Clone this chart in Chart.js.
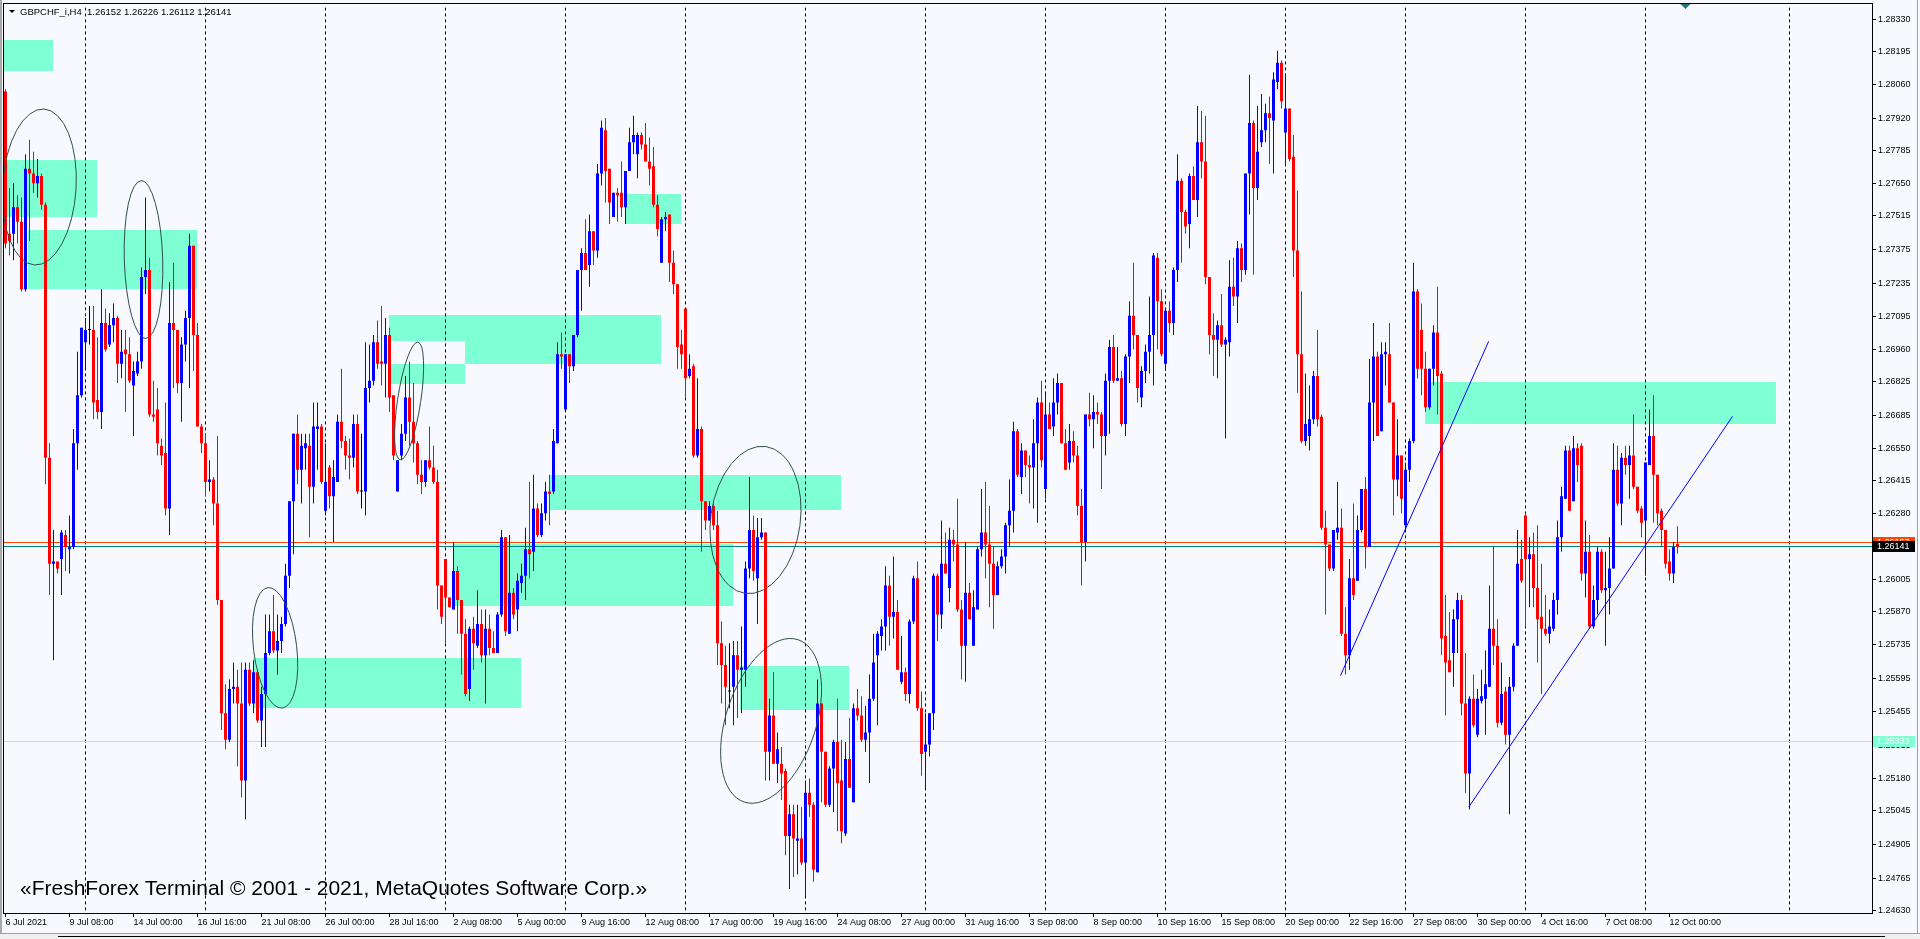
<!DOCTYPE html>
<html><head><meta charset="utf-8">
<script src="https://cdn.jsdelivr.net/npm/chart.js@4.4.1/dist/chart.umd.min.js"></script>
<style>html,body{margin:0;padding:0;background:#F8F8FF;overflow:hidden}canvas{display:block}</style>
</head><body>
<div style="width:1920px;height:939px;position:relative"><canvas id="c" width="1920" height="939"></canvas></div>
<script>
// ---- GBPCHF_i H4 candles (bar 0 = 6 Jul 2021 16:00) ----
const opens = [
1.2803,1.2744,1.2744,1.2755,1.2749,1.2721,1.2771,1.2769,1.2765,1.2768,
1.2756,1.2651,1.2607,1.2608,1.2609,1.2619,1.2613,1.2614,1.2657,1.2677,
1.2699,1.2704,1.2704,1.2675,1.2670,1.2707,1.2698,1.2706,1.2709,1.2690,
1.2696,1.2694,1.2681,1.2686,1.2691,1.2726,1.2729,1.2669,1.2671,1.2656,
1.2653,1.2630,1.2707,1.2704,1.2682,1.2698,1.2709,1.2739,1.2702,1.2664,
1.2657,1.2641,1.2642,1.2632,1.2592,1.2545,1.2534,1.2555,1.2556,1.2549,
1.2517,1.2563,1.2549,1.2562,1.2542,1.2553,1.2570,1.2579,1.2571,1.2575,
1.2582,1.2602,1.2633,1.2661,1.2646,1.2655,1.2656,1.2639,1.2663,1.2664,
1.2629,1.2647,1.2635,1.2641,1.2666,1.2658,1.2652,1.2651,1.2665,1.2637,
1.2637,1.2680,1.2683,1.2699,1.2691,1.2690,1.2702,1.2677,1.2637,1.2652,
1.2661,1.2676,1.2666,1.2657,1.2644,1.2641,1.2650,1.2647,1.2641,1.2598,
1.2609,1.2593,1.2588,1.2604,1.2592,1.2578,1.2555,1.2580,1.2573,1.2582,
1.2569,1.2580,1.2572,1.2570,1.2586,1.2618,1.2578,1.2595,1.2588,1.2599,
1.2602,1.2613,1.2612,1.2630,1.2619,1.2628,1.2637,1.2637,1.2657,1.2694,
1.2671,1.2694,1.2689,1.2702,1.2729,1.2736,1.2731,1.2745,1.2737,1.2769,
1.2787,1.2771,1.2751,1.2761,1.2761,1.2755,1.2770,1.2782,1.2777,1.2785,
1.2781,1.2774,1.2772,1.2756,1.2732,1.2750,1.2752,1.2732,1.2723,1.2698,
1.2713,1.2685,1.2689,1.2652,1.2663,1.2633,1.2625,1.2631,1.2623,1.2574,
1.2565,1.2554,1.2556,1.2569,1.2563,1.2563,1.2605,1.2621,1.2601,1.2618,
1.2620,1.2529,1.2544,1.2524,1.2524,1.2521,1.2494,1.2503,1.2492,1.2493,
1.2483,1.2512,1.2507,1.2479,1.2549,1.2529,1.2507,1.2522,1.2533,1.2517,
1.2495,1.2526,1.2508,1.2547,1.2544,1.2534,1.2537,1.2551,1.2569,1.2577,
1.2581,1.2598,1.2585,1.2587,1.2558,1.2562,1.2553,1.2583,1.2601,1.2547,
1.2529,1.2532,1.2545,1.2602,1.2586,1.2607,1.2597,1.2617,1.2615,1.2588,
1.2573,1.2595,1.2573,1.2588,1.2613,1.2620,1.2615,1.2607,1.2594,1.2606,
1.2610,1.2623,1.2629,1.2662,1.2643,1.2654,1.2648,1.2647,1.2657,1.2674,
1.2638,1.2669,1.2664,1.2674,1.2682,1.2657,1.2649,1.2658,1.2652,1.2631,
1.2616,1.2669,1.2667,1.2670,1.2669,1.2660,1.2683,1.2697,1.2683,1.2684,
1.2665,1.2693,1.2710,1.2702,1.2676,1.2687,1.2695,1.2702,1.2734,1.2716,
1.2690,1.2712,1.2707,1.2729,1.2766,1.2753,1.2748,1.2768,1.2758,1.2782,
1.2774,1.2726,1.2702,1.2700,1.2706,1.2698,1.2699,1.2722,1.2718,1.2738,
1.2729,1.2769,1.2790,1.2763,1.2782,1.2787,1.2794,1.2791,1.2807,1.2815,
1.2786,1.2796,1.2776,1.2737,1.2694,1.2658,1.2660,1.2667,1.2685,1.2668,
1.2622,1.2615,1.2605,1.2620,1.2622,1.2578,1.2569,1.2601,1.2600,1.2621,
1.2638,1.2614,1.2674,1.2693,1.2662,1.2694,1.2694,1.2674,1.2642,1.2652,
1.2623,1.2646,1.2658,1.2720,1.2704,1.2688,1.2672,1.2688,1.2703,1.2686,
1.2577,1.2567,1.2570,1.2584,1.2592,1.2549,1.2520,1.2551,1.2536,1.2550,
1.2551,1.2556,1.2580,1.2573,1.2541,1.2554,1.2536,1.2556,1.2573,1.2609,
1.2627,1.2609,1.2611,1.2597,1.2585,1.2580,1.2578,1.2580,1.2592,1.2618,
1.2634,1.2654,1.2633,1.2655,1.2656,1.2603,1.2612,1.2581,1.2592,1.2612,
1.2596,1.2597,1.2605,1.2646,1.2632,1.2651,1.2648,1.2652,1.2639,1.2630,
1.2625,1.2648,1.2660,1.2644,1.2629,1.2621,1.2608,1.2603,1.26152];
const highs = [
1.2804,1.2763,1.2765,1.2760,1.2759,1.2777,1.2783,1.2778,1.2775,1.2769,
1.2757,1.2657,1.2621,1.2608,1.2621,1.2621,1.2627,1.2663,1.2695,1.2705,
1.2709,1.2714,1.2714,1.2701,1.2721,1.2713,1.2711,1.2715,1.2710,1.2704,
1.2704,1.2701,1.2691,1.2695,1.2730,1.2759,1.2734,1.2683,1.2680,1.2659,
1.2674,1.2724,1.2732,1.2704,1.2701,1.2712,1.2744,1.2739,1.2707,1.2665,
1.2661,1.2650,1.2643,1.2660,1.2592,1.2557,1.2559,1.2566,1.2563,1.2566,
1.2566,1.2566,1.2567,1.2563,1.2556,1.2586,1.2586,1.2594,1.2586,1.2585,
1.2607,1.2633,1.2661,1.2669,1.2661,1.2661,1.2661,1.2674,1.2674,1.2665,
1.2657,1.2648,1.2650,1.2669,1.2688,1.2660,1.2659,1.2669,1.2669,1.2661,
1.2699,1.2698,1.2702,1.2708,1.2714,1.2709,1.2705,1.2677,1.2650,1.2665,
1.2685,1.2691,1.2682,1.2658,1.2650,1.2650,1.2664,1.2656,1.2646,1.2598,
1.2609,1.2593,1.2616,1.2606,1.2592,1.2584,1.2581,1.2585,1.2596,1.2588,
1.2588,1.2586,1.2579,1.2587,1.2621,1.2618,1.2619,1.2597,1.2603,1.2607,
1.2622,1.2641,1.2644,1.2632,1.2632,1.2641,1.2644,1.2663,1.2699,1.2703,
1.2694,1.2694,1.2702,1.2729,1.2738,1.2750,1.2752,1.2745,1.2773,1.2791,
1.2792,1.2771,1.2761,1.2763,1.2774,1.2770,1.2788,1.2793,1.2786,1.2786,
1.2790,1.2784,1.2780,1.2760,1.2751,1.2753,1.2752,1.2737,1.2723,1.2704,
1.2713,1.2694,1.2690,1.2684,1.2664,1.2633,1.2633,1.2632,1.2629,1.2583,
1.2573,1.2574,1.2575,1.2575,1.2581,1.2608,1.2643,1.2627,1.2626,1.2626,
1.2620,1.2551,1.2562,1.2537,1.2531,1.2522,1.2507,1.2507,1.2507,1.2506,
1.2517,1.2518,1.2508,1.2559,1.2549,1.2529,1.2523,1.2534,1.2551,1.2534,
1.2533,1.2543,1.2549,1.2555,1.2552,1.2548,1.2561,1.2578,1.2579,1.2584,
1.2606,1.2602,1.2610,1.2592,1.2577,1.2564,1.2584,1.2602,1.2608,1.2554,
1.2545,1.2545,1.2603,1.2603,1.2625,1.2620,1.2622,1.2621,1.2634,1.2592,
1.2616,1.2599,1.2596,1.2614,1.2638,1.2641,1.2631,1.2614,1.2608,1.2613,
1.2624,1.2642,1.2666,1.2663,1.2657,1.2654,1.2652,1.2667,1.2676,1.2683,
1.2678,1.2674,1.2684,1.2686,1.2682,1.2663,1.2665,1.2662,1.2656,1.2638,
1.2669,1.2678,1.2677,1.2674,1.2670,1.2686,1.2700,1.2702,1.2697,1.2687,
1.2694,1.2716,1.2732,1.2702,1.2689,1.2698,1.2718,1.2736,1.2736,1.2721,
1.2713,1.2716,1.2730,1.2777,1.2767,1.2754,1.2769,1.2772,1.2797,1.2795,
1.2793,1.2726,1.2711,1.2708,1.2719,1.2701,1.2733,1.2734,1.2741,1.2740,
1.2769,1.2810,1.2791,1.2797,1.2802,1.2798,1.2801,1.2811,1.2820,1.2816,
1.2810,1.2796,1.2785,1.2762,1.2720,1.2686,1.2681,1.2687,1.2704,1.2669,
1.2629,1.2615,1.2621,1.2641,1.2630,1.2589,1.2609,1.2632,1.2627,1.2638,
1.2643,1.2692,1.2707,1.2695,1.2699,1.2699,1.2707,1.2674,1.2667,1.2652,
1.2649,1.2659,1.2732,1.2721,1.2715,1.2695,1.2688,1.2706,1.2722,1.2687,
1.2594,1.2587,1.2588,1.2595,1.2594,1.2570,1.2552,1.2561,1.2555,1.2563,
1.2571,1.2598,1.2614,1.2584,1.2566,1.2556,1.2560,1.2574,1.2621,1.2617,
1.2628,1.2618,1.2620,1.2623,1.2607,1.2594,1.2588,1.2595,1.2625,1.2639,
1.2656,1.2656,1.2660,1.2657,1.2657,1.2625,1.2619,1.2598,1.2614,1.2613,
1.2612,1.2618,1.2657,1.2656,1.2653,1.2656,1.2656,1.2669,1.2639,1.2631,
1.2649,1.2671,1.2677,1.2644,1.2630,1.2621,1.2613,1.2616,1.26226];
const lows = [
1.2738,1.2735,1.2733,1.2740,1.2720,1.2720,1.2741,1.2761,1.2759,1.2754,
1.2640,1.2594,1.2567,1.2603,1.2594,1.2604,1.2603,1.2613,1.2646,1.2676,
1.2688,1.2698,1.2667,1.2667,1.2663,1.2695,1.2697,1.2699,1.2682,1.2684,
1.2670,1.2682,1.2660,1.2685,1.2688,1.2719,1.2668,1.2666,1.2652,1.2648,
1.2627,1.2619,1.2680,1.2678,1.2666,1.2691,1.2680,1.2687,1.2664,1.2653,
1.2635,1.2637,1.2623,1.2590,1.2538,1.2530,1.2533,1.2549,1.2523,1.2510,
1.2501,1.2548,1.2545,1.2541,1.2531,1.2531,1.2569,1.2570,1.2561,1.2570,
1.2581,1.2597,1.2611,1.2640,1.2632,1.2646,1.2618,1.2632,1.2646,1.2640,
1.2627,1.2630,1.2616,1.2641,1.2655,1.2646,1.2642,1.2647,1.2636,1.2630,
1.2627,1.2674,1.2681,1.2688,1.2681,1.2676,1.2670,1.2650,1.2637,1.2650,
1.2658,1.2656,1.2649,1.2640,1.2636,1.2639,1.2646,1.2640,1.2588,1.2582,
1.2574,1.2589,1.2588,1.2578,1.2561,1.2552,1.2550,1.2563,1.2572,1.2566,
1.2549,1.2569,1.2570,1.2570,1.2585,1.2577,1.2578,1.2584,1.2579,1.2595,
1.2592,1.2601,1.2604,1.2618,1.2618,1.2625,1.2623,1.2636,1.2657,1.2688,
1.2671,1.2682,1.2687,1.2701,1.2712,1.2729,1.2722,1.2731,1.2734,1.2764,
1.2757,1.2748,1.2751,1.2749,1.2751,1.2748,1.2770,1.2777,1.2767,1.2779,
1.2774,1.2764,1.2755,1.2743,1.2732,1.2745,1.2724,1.2719,1.2688,1.2688,
1.2676,1.2684,1.2651,1.2651,1.2612,1.2621,1.2625,1.2621,1.2565,1.2549,
1.2540,1.2547,1.2540,1.2543,1.2545,1.2556,1.2601,1.2600,1.2582,1.2617,
1.2517,1.2517,1.2524,1.2516,1.2509,1.2486,1.2472,1.2477,1.2478,1.2482,
1.2469,1.2502,1.2475,1.2479,1.2508,1.2506,1.2506,1.2504,1.2496,1.2491,
1.2494,1.2514,1.2508,1.2542,1.2533,1.2529,1.2516,1.2550,1.2540,1.2571,
1.2571,1.2573,1.2576,1.2563,1.2557,1.2550,1.2549,1.2582,1.2546,1.2519,
1.2514,1.2527,1.2538,1.2575,1.2580,1.2603,1.2591,1.2608,1.2587,1.2559,
1.2558,1.2584,1.2573,1.2588,1.2610,1.2601,1.2589,1.2580,1.2594,1.2605,
1.2603,1.2614,1.2620,1.2643,1.2636,1.2643,1.2632,1.2630,1.2624,1.2647,
1.2634,1.2663,1.2660,1.2669,1.2657,1.2646,1.2646,1.2649,1.2627,1.2598,
1.2608,1.2664,1.2655,1.2665,1.2638,1.2652,1.2661,1.2682,1.2683,1.2664,
1.2660,1.2682,1.2696,1.2674,1.2672,1.2682,1.2686,1.2681,1.2696,1.2693,
1.2687,1.2703,1.2702,1.2724,1.2732,1.2744,1.2738,1.2758,1.2751,1.2767,
1.2723,1.2694,1.2685,1.2684,1.2697,1.2659,1.2693,1.2714,1.2707,1.2724,
1.2727,1.2752,1.2727,1.2758,1.2780,1.2782,1.2773,1.2769,1.2804,1.2796,
1.2772,1.2774,1.2726,1.2678,1.2657,1.2656,1.2654,1.2665,1.2664,1.2621,
1.2586,1.2604,1.2604,1.2617,1.2577,1.2561,1.2563,1.2592,1.2600,1.2620,
1.2605,1.2614,1.2658,1.2660,1.2662,1.2681,1.2674,1.2627,1.2635,1.2628,
1.2621,1.2641,1.2657,1.2684,1.2677,1.2670,1.2671,1.2681,1.2669,1.2569,
1.2544,1.2562,1.2556,1.2570,1.2544,1.2512,1.2505,1.2539,1.2535,1.2549,
1.2536,1.2556,1.2565,1.2539,1.2540,1.2532,1.2503,1.2554,1.2573,1.2599,
1.2581,1.2589,1.2589,1.2566,1.2553,1.2577,1.2574,1.2579,1.2586,1.2612,
1.2634,1.2629,1.2633,1.2641,1.2600,1.2593,1.2580,1.2580,1.2586,1.2595,
1.2573,1.2586,1.2605,1.2631,1.2623,1.2644,1.2634,1.2638,1.2628,1.2618,
1.2602,1.2648,1.2624,1.2623,1.2614,1.2605,1.2600,1.2599,1.26112];
const closes = [
1.2740,1.2741,1.2755,1.2749,1.2721,1.2771,1.2769,1.2765,1.2768,1.2756,
1.2651,1.2607,1.2608,1.2605,1.2620,1.2614,1.2614,1.2657,1.2677,1.2705,
1.2704,1.2704,1.2674,1.2670,1.2707,1.2696,1.2706,1.2709,1.2690,1.2695,
1.2694,1.2683,1.2687,1.2691,1.2726,1.2729,1.2669,1.2668,1.2657,1.2652,
1.2630,1.2707,1.2704,1.2682,1.2698,1.2709,1.2739,1.2702,1.2664,1.2657,
1.2641,1.2642,1.2632,1.2592,1.2545,1.2534,1.2555,1.2556,1.2549,1.2517,
1.2563,1.2549,1.2562,1.2542,1.2553,1.2570,1.2579,1.2571,1.2575,1.2582,
1.2602,1.2633,1.2661,1.2646,1.2656,1.2657,1.2639,1.2664,1.2664,1.2641,
1.2641,1.2635,1.2643,1.2666,1.2658,1.2652,1.2651,1.2665,1.2637,1.2637,
1.2680,1.2683,1.2699,1.2690,1.2690,1.2702,1.2676,1.2652,1.2650,1.2661,
1.2676,1.2666,1.2657,1.2644,1.2641,1.2650,1.2647,1.2641,1.2598,1.2585,
1.2593,1.2589,1.2604,1.2592,1.2578,1.2553,1.2580,1.2574,1.2582,1.2569,
1.2580,1.2572,1.2570,1.2586,1.2618,1.2579,1.2595,1.2586,1.2600,1.2602,
1.2613,1.2611,1.2630,1.2619,1.2628,1.2637,1.2636,1.2658,1.2694,1.2693,
1.2694,1.2689,1.2702,1.2729,1.2736,1.2729,1.2745,1.2737,1.2769,1.2788,
1.2770,1.2757,1.2761,1.2760,1.2755,1.2770,1.2782,1.2785,1.2785,1.2781,
1.2774,1.2771,1.2756,1.2746,1.2750,1.2751,1.2732,1.2723,1.2697,1.2694,
1.2684,1.2688,1.2652,1.2663,1.2633,1.2625,1.2631,1.2623,1.2574,1.2565,
1.2556,1.2554,1.2569,1.2563,1.2564,1.2605,1.2621,1.2604,1.2618,1.2620,
1.2529,1.2544,1.2524,1.2530,1.2520,1.2494,1.2503,1.2493,1.2493,1.2483,
1.2512,1.2507,1.2480,1.2549,1.2529,1.2507,1.2522,1.2533,1.2516,1.2496,
1.2526,1.2514,1.2547,1.2544,1.2534,1.2537,1.2551,1.2566,1.2578,1.2581,
1.2598,1.2585,1.2587,1.2563,1.2562,1.2553,1.2583,1.2601,1.2547,1.2528,
1.2532,1.2545,1.2602,1.2586,1.2607,1.2603,1.2617,1.2615,1.2588,1.2573,
1.2595,1.2584,1.2589,1.2613,1.2620,1.2615,1.2607,1.2594,1.2606,1.2610,
1.2623,1.2629,1.2662,1.2644,1.2654,1.2648,1.2647,1.2657,1.2674,1.2650,
1.2669,1.2663,1.2674,1.2682,1.2657,1.2646,1.2658,1.2652,1.2631,1.2616,
1.2669,1.2667,1.2670,1.2669,1.2660,1.2683,1.2697,1.2683,1.2684,1.2665,
1.2693,1.2710,1.2702,1.2680,1.2687,1.2695,1.2702,1.2735,1.2716,1.2694,
1.2712,1.2707,1.2729,1.2766,1.2753,1.2747,1.2768,1.2758,1.2782,1.2774,
1.2726,1.2702,1.2700,1.2706,1.2698,1.2700,1.2722,1.2718,1.2738,1.2729,
1.2769,1.2790,1.2763,1.2778,1.2787,1.2794,1.2792,1.2808,1.2815,1.2799,
1.2796,1.2775,1.2737,1.2694,1.2658,1.2665,1.2667,1.2685,1.2667,1.2622,
1.2615,1.2605,1.2621,1.2622,1.2578,1.2569,1.2601,1.2594,1.2621,1.2638,
1.2614,1.2674,1.2693,1.2660,1.2694,1.2695,1.2674,1.2642,1.2652,1.2634,
1.2646,1.2658,1.2720,1.2688,1.2688,1.2672,1.2688,1.2703,1.2685,1.2576,
1.2566,1.2562,1.2584,1.2592,1.2549,1.2520,1.2551,1.2540,1.2551,1.2552,
1.2557,1.2580,1.2573,1.2541,1.2553,1.2536,1.2556,1.2573,1.2607,1.2600,
1.2609,1.2611,1.2597,1.2584,1.2580,1.2578,1.2581,1.2592,1.2618,1.2635,
1.2654,1.2629,1.2655,1.2648,1.2603,1.2612,1.2581,1.2592,1.2612,1.2596,
1.2597,1.2605,1.2646,1.2632,1.2651,1.2648,1.2652,1.2639,1.2629,1.2624,
1.2649,1.2660,1.2644,1.2628,1.2621,1.2607,1.2603,1.2614,1.26141];

// ---- axis tick labels ----
const timeLabels = ['6 Jul 2021','9 Jul 08:00','14 Jul 00:00','16 Jul 16:00','21 Jul 08:00','26 Jul 00:00','28 Jul 16:00',
  '2 Aug 08:00','5 Aug 00:00','9 Aug 16:00','12 Aug 08:00','17 Aug 00:00','19 Aug 16:00','24 Aug 08:00','27 Aug 00:00',
  '31 Aug 16:00','3 Sep 08:00','8 Sep 00:00','10 Sep 16:00','15 Sep 08:00','20 Sep 00:00','22 Sep 16:00','27 Sep 08:00',
  '30 Sep 00:00','4 Oct 16:00','7 Oct 08:00','12 Oct 00:00'];
const timeLabelBars = [0,16,32,48,64,80,96,112,128,144,160,176,192,208,224,240,256,272,288,304,320,336,352,368,384,400,416];
const priceLabels = ['1.28330','1.28195','1.28060','1.27920','1.27785','1.27650','1.27515','1.27375','1.27235','1.27095',
  '1.26960','1.26825','1.26685','1.26550','1.26415','1.26280','1.26145','1.26005','1.25870','1.25735','1.25595',
  '1.25455','1.25315','1.25180','1.25045','1.24905','1.24765','1.24630'];

// ---- objects on the chart ----
const separatorBars = [20,50,80,110,140,170,200,230,260,290,320,350,380,410,446];
// [fromBar, toBar, topPrice, bottomPrice]
const zones = [
  [-0.5, 11.75, 1.28245, 1.28114],
  [-0.5, 22.75, 1.27745, 1.27511],
  [5.5, 47.75, 1.27454, 1.27212],
  [61.75, 128.75, 1.25678, 1.25471],
  [95.75, 163.75, 1.27104, 1.26994],
  [114.75, 163.75, 1.26994, 1.26898],
  [95.75, 114.75, 1.26898, 1.26815],
  [136, 208.75, 1.26437, 1.26294],
  [111.75, 181.75, 1.26153, 1.25893],
  [154.75, 168.75, 1.27607, 1.27481],
  [183.5, 210.75, 1.25645, 1.25463],
  [354.75, 442.5, 1.26826, 1.26650]
];
// [centerBar, centerPrice, radiusBars, radiusPrice, rotation]
const ellipses = [
  [8.45, 1.27634, 9.2, 0.003243, 0.06],
  [34.5, 1.27333, 4.8, 0.003276, -0.03],
  [67.4, 1.25721, 5.4, 0.00252, -0.12],
  [100.9, 1.26746, 2.9, 0.00247, 0.15],
  [187.5, 1.26252, 11.2, 0.003078, 0.14],
  [191.4, 1.25418, 11.25, 0.00355, 0.32]
];
const trend1 = [{x:333.75, y:1.25606}, {x:370.8, y:1.26994}];
const trend2 = [{x:365.8, y:1.25060}, {x:431.75, y:1.26682}];
const bidPrice = 1.26141, askPrice = 1.26157, levelPrice = 1.25333;
const titleText = 'GBPCHF_i,H4';
const titlePrices = '1.26152 1.26226 1.26112 1.26141';
const watermark = '\u00ABFreshForex Terminal \u00A9 2001 - 2021, MetaQuotes Software Corp.\u00BB';

const X_MIN = -0.375, X_MAX = 466.625, Y_MIN = 1.246205, Y_MAX = 1.283796;
const FONT = '"Liberation Sans", Arial, sans-serif';

const idx = opens.map((_, i) => i);
const candleColors = idx.map(i => closes[i] > opens[i] ? '#0000FF' : (closes[i] < opens[i] ? '#FF0000' : '#000000'));
const wickData = idx.map(i => ({x: i, y: [lows[i], highs[i]]}));
const bodyData = idx.map(i => ({x: i, y: [Math.min(opens[i], closes[i]), Math.max(opens[i], closes[i])]}));

function priceBox(ctx, yPx, bg, txt) {
  ctx.fillStyle = bg;
  ctx.fillRect(1873, Math.round(yPx - 5.5), 42, 11);
  ctx.fillStyle = '#FFFFFF';
  ctx.font = '9px ' + FONT;
  ctx.textAlign = 'left'; ctx.textBaseline = 'middle';
  ctx.fillText(txt, 1877, Math.round(yPx - 5.5) + 6);
}

const overlay = {
  id: 'overlay',
  beforeDraw(chart) {
    const ctx = chart.ctx;
    ctx.save();
    ctx.fillStyle = '#F8F8FF';
    ctx.fillRect(0, 0, chart.width, chart.height);
    ctx.fillStyle = '#A9A9A9';
    ctx.fillRect(0, 0, 2, 934);
    ctx.fillStyle = '#A0A0A0';
    ctx.fillRect(0, 933, 1920, 1);
    ctx.fillStyle = '#F0F0F0';
    ctx.fillRect(0, 934, 1920, 5);
    ctx.fillStyle = '#000';
    ctx.fillRect(58, 936, 1827, 1);
    ctx.fillStyle = '#A0A0A0';
    ctx.fillRect(1917, 0, 1, 934);
    ctx.restore();
  },
  beforeDatasetsDraw(chart) {
    const {ctx, chartArea: a, scales: {x, y}} = chart;
    ctx.save();
    ctx.beginPath(); ctx.rect(a.left, a.top, a.right - a.left, a.bottom - a.top); ctx.clip();
    ctx.fillStyle = '#7FFFD4';
    zones.forEach(([b0, b1, pt, pb]) => {
      const x0 = Math.round(x.getPixelForValue(b0)), x1 = Math.round(x.getPixelForValue(b1));
      const y0 = Math.round(y.getPixelForValue(pt)), y1 = Math.round(y.getPixelForValue(pb));
      ctx.fillRect(x0, y0, x1 - x0, y1 - y0);
    });
    ctx.strokeStyle = '#000'; ctx.lineWidth = 1; ctx.setLineDash([3, 3]);
    separatorBars.forEach(b => {
      const px = Math.floor(x.getPixelForValue(b)) + 0.5;
      ctx.beginPath(); ctx.moveTo(px, a.top); ctx.lineTo(px, a.bottom); ctx.stroke();
    });
    ctx.setLineDash([]);
    [[levelPrice, '#7FFFD4'], [askPrice, '#FF4500'], [bidPrice, '#008080']].forEach(([p, col]) => {
      const py = Math.floor(y.getPixelForValue(p)) + 0.5;
      ctx.strokeStyle = col;
      ctx.beginPath(); ctx.moveTo(a.left, py); ctx.lineTo(a.right, py); ctx.stroke();
    });
    ctx.restore();
  },
  afterDatasetsDraw(chart) {
    const {ctx, chartArea: a, scales: {x, y}} = chart;
    ctx.save();
    ctx.beginPath(); ctx.rect(a.left, a.top, a.right - a.left, a.bottom - a.top); ctx.clip();
    ctx.strokeStyle = '#2F4F4F'; ctx.lineWidth = 1;
    ellipses.forEach(([cb, cp, rb, rp, rot]) => {
      const cx = x.getPixelForValue(cb), cy = y.getPixelForValue(cp);
      const rx = Math.abs(x.getPixelForValue(cb + rb) - cx);
      const ry = Math.abs(y.getPixelForValue(cp + rp) - cy);
      ctx.beginPath(); ctx.ellipse(cx, cy, rx, ry, rot, 0, Math.PI * 2); ctx.stroke();
    });
    ctx.restore();
  },
  afterDraw(chart) {
    const {ctx, chartArea: a, scales: {x, y}} = chart;
    ctx.save();
    // frame
    ctx.strokeStyle = '#000'; ctx.lineWidth = 1;
    ctx.strokeRect(3.5, 3.5, 1869, 910);
    // chart-shift marker
    const sx = Math.floor(x.getPixelForValue(420)) + 0.5;
    ctx.fillStyle = '#207878';
    ctx.beginPath(); ctx.moveTo(sx - 5, 4); ctx.lineTo(sx + 5, 4); ctx.lineTo(sx, 9); ctx.closePath(); ctx.fill();
    // title
    ctx.fillStyle = '#000';
    ctx.beginPath(); ctx.moveTo(9, 10); ctx.lineTo(15, 10); ctx.lineTo(12, 13); ctx.closePath(); ctx.fill();
    ctx.font = '9.5px ' + FONT; ctx.textAlign = 'left'; ctx.textBaseline = 'alphabetic';
    ctx.fillText(titleText, 20, 15);
    ctx.fillText(titlePrices, 87, 15);
    // watermark
    ctx.font = '21px ' + FONT;
    ctx.fillText(watermark, 20, 895);
    // price boxes
    priceBox(ctx, y.getPixelForValue(askPrice), '#FF4500', askPrice.toFixed(5));
    priceBox(ctx, y.getPixelForValue(bidPrice), '#000000', bidPrice.toFixed(5));
    priceBox(ctx, y.getPixelForValue(levelPrice), '#7FFFD4', levelPrice.toFixed(5));
    ctx.restore();
  }
};

new Chart(document.getElementById('c'), {
  type: 'bar',
  data: {
    datasets: [
      {type: 'line', data: trend1, borderColor: '#0000FF', borderWidth: 1, pointRadius: 0, fill: false, tension: 0},
      {type: 'line', data: trend2, borderColor: '#0000FF', borderWidth: 1, pointRadius: 0, fill: false, tension: 0},
      {data: bodyData, backgroundColor: candleColors, barThickness: 3, grouped: false, borderWidth: 0, inflateAmount: 0, minBarLength: 1},
      {data: wickData, backgroundColor: candleColors, barThickness: 1, grouped: false, borderWidth: 0, inflateAmount: 0, minBarLength: 1}
    ]
  },
  options: {
    responsive: false, animation: false, devicePixelRatio: 1,
    layout: {padding: {left: 4, top: 3, right: 0, bottom: 0}},
    plugins: {legend: {display: false}, tooltip: {enabled: false}},
    scales: {
      x: {
        type: 'linear', min: X_MIN, max: X_MAX, offset: false, position: 'bottom',
        grid: {display: true, offset: false, drawOnChartArea: false, drawTicks: true, tickLength: 4, color: '#000'},
        border: {display: false},
        ticks: {autoSkip: false, maxRotation: 0, minRotation: 0, align: 'start', padding: 0, color: '#000',
          font: {family: FONT, size: 9}, callback: (v, i) => timeLabels[i]},
        afterBuildTicks: s => { s.ticks = timeLabelBars.map(v => ({value: v})); },
        afterFit: s => { s.height = 26; }
      },
      y: {
        type: 'linear', position: 'right', min: Y_MIN, max: Y_MAX,
        grid: {drawOnChartArea: false, drawTicks: true, tickLength: 4, color: '#000'},
        border: {display: false},
        ticks: {padding: 2, color: '#000', font: {family: FONT, size: 9}, callback: (v, i) => priceLabels[i]},
        afterBuildTicks: s => { s.ticks = priceLabels.map(t => ({value: parseFloat(t)})); },
        afterFit: s => { s.width = 48; }
      }
    }
  },
  plugins: [overlay]
});
</script>
</body></html>
